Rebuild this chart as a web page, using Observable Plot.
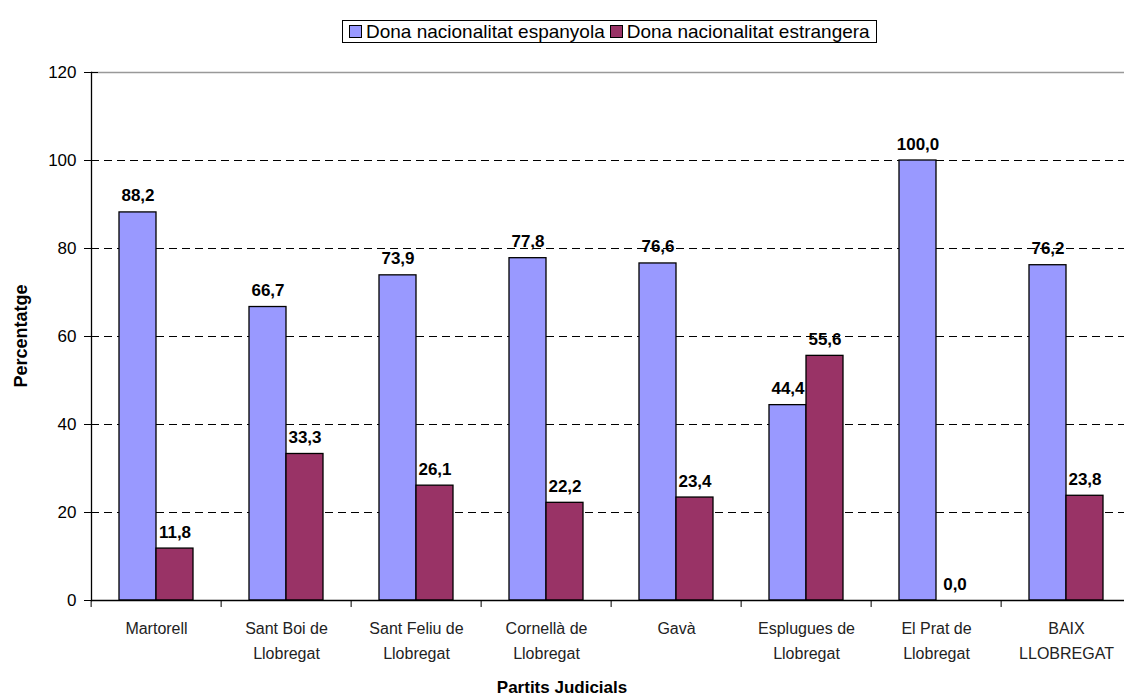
<!DOCTYPE html>
<html>
<head>
<meta charset="utf-8">
<script src="https://cdn.jsdelivr.net/npm/d3@7"></script>
<script src="https://cdn.jsdelivr.net/npm/@observablehq/plot@0.6"></script>
<style>
  html, body { margin: 0; padding: 0; background: white; overflow: hidden; width: 1124px; height: 697px; }
  #wrap { position: relative; width: 1124px; height: 697px; overflow: hidden; font-family: "Liberation Sans Narrow", "Arial Narrow", "Liberation Sans", sans-serif; }
  #chart { position: absolute; left: 0; top: 0; width: 1134px; height: 697px; }
  #legend { position: absolute; left: 342px; top: 20px; height: 21px; border: 1px solid #000; background: #fff; display: flex; align-items: center; padding: 0 4px 0 3px; font-size: 19px; color: #000; white-space: nowrap; }
  #legend .sw { display: inline-block; width: 11px; height: 11px; border: 1px solid #000; margin: 0 4px 0 3px; }
  #legend .item { display: flex; align-items: center; margin-right: 2px; }
  #ytitle { position: absolute; left: 21px; top: 336px; transform: translate(-50%, -50%) rotate(-90deg); font-weight: bold; font-size: 18px; white-space: nowrap; }
  #xtitle { position: absolute; left: 562px; top: 687px; transform: translate(-50%, -50%); font-weight: bold; font-size: 17px; white-space: nowrap; line-height: 1; }
  #chart svg { max-width: none !important; width: 1134px; height: 697px; }
</style>
</head>
<body>
<div id="wrap">
  <div id="chart"></div>
  <div id="legend"></div>
  <div id="ytitle">Percentatge</div>
  <div id="xtitle">Partits Judicials</div>
</div>
<script>
const categories = ["Martorell", "Sant Boi de\nLlobregat", "Sant Feliu de\nLlobregat", "Cornellà de\nLlobregat", "Gavà", "Esplugues de\nLlobregat", "El Prat de\nLlobregat", "BAIX\nLLOBREGAT"];
const series = ["Dona nacionalitat espanyola", "Dona nacionalitat estrangera"];
const espanyola = [88.2, 66.7, 73.9, 77.8, 76.6, 44.4, 100.0, 76.2];
const estrangera = [11.8, 33.3, 26.1, 22.2, 23.4, 55.6, 0.0, 23.8];
const yTicks = [0, 20, 40, 60, 80, 100, 120];
const gridTicks = [20, 40, 60, 80, 100];
const colors = ["#9999FF", "#993366"];

const data = categories.flatMap((c, i) => [
  {cat: c, s: series[0], v: espanyola[i]},
  {cat: c, s: series[1], v: estrangera[i]}
]);

const font = '"Liberation Sans Narrow", "Arial Narrow", "Liberation Sans", sans-serif';
const fmt = v => v.toFixed(1).replace(".", ",");

const chart = Plot.plot({
  width: 1134,
  height: 697,
  marginLeft: 88,
  marginRight: 0,
  marginTop: 72,
  marginBottom: 97,
  style: {fontFamily: font, background: "transparent", color: "#000", overflow: "visible", maxWidth: "none"},
  fx: {domain: categories, padding: 0, label: null},
  x: {domain: series, paddingInner: 0, paddingOuter: 0.743, axis: null},
  y: {domain: [0, 120], label: null},
  color: {domain: series, range: colors},
  marks: [
    Plot.ruleY(gridTicks, {stroke: "#000", strokeWidth: 1, strokeDasharray: "8,5"}),
    Plot.ruleY([120], {stroke: "#999", strokeWidth: 1.5}),
    Plot.barY(data, {fx: "cat", x: "s", y: "v", fill: "s", stroke: "#000", strokeWidth: 1.3, inset: 0}),
    Plot.ruleY([0], {stroke: "#000", strokeWidth: 1.3}),
    Plot.frame({anchor: "left", facetAnchor: "left", stroke: "#000", strokeWidth: 1.3}),
    Plot.text(data, {fx: "cat", x: "s", y: "v", text: d => fmt(d.v), dy: -11, lineAnchor: "bottom", fontWeight: "bold", fontSize: 17, fill: "#000"}),
    Plot.axisY({ticks: yTicks, tickSize: 14, dx: 7, tickFormat: () => "", stroke: "#000"}),
    Plot.axisY({ticks: yTicks, tickSize: 0, tickPadding: 15, fontSize: 17, fill: "#000", label: null}),
    Plot.axisFx({anchor: "bottom", tickSize: 7, dx: -65.375, tickFormat: () => "", label: null, stroke: "#000"}),
    Plot.axisFx({anchor: "bottom", tickSize: 0, tickPadding: 16, fontSize: 16, lineHeight: 1.56, fill: "#222", label: null})
  ]
});
chart.style.maxWidth = "none";
document.getElementById("chart").appendChild(chart);

const legend = document.getElementById("legend");
series.forEach((s, i) => {
  const item = document.createElement("span");
  item.className = "item";
  const sw = document.createElement("span");
  sw.className = "sw";
  sw.style.background = colors[i];
  item.appendChild(sw);
  item.appendChild(document.createTextNode(s));
  legend.appendChild(item);
});
</script>
</body>
</html>
